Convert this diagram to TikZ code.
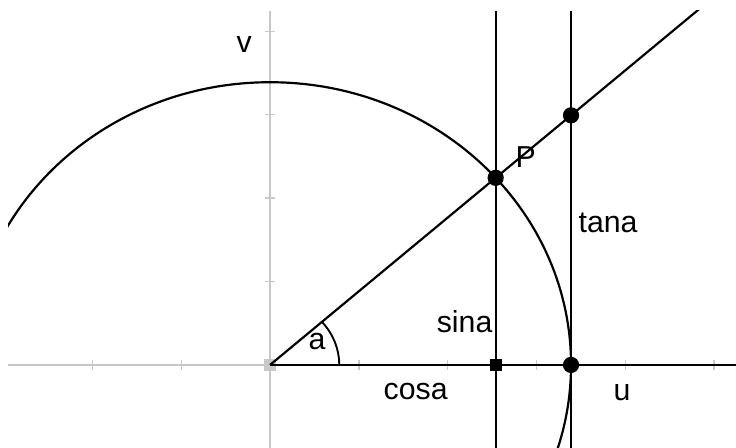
\documentclass[tikz,border=0pt]{standalone}
\usepackage{fontspec}
\setmainfont{Liberation Sans}
\usetikzlibrary{calc}
\definecolor{axisgray}{RGB}{200,200,200}

\begin{document}
\begin{tikzpicture}[
    x=1cm, y=0.9392cm,
    axis/.style={draw=axisgray, line width=0.55pt},
    axistick/.style={draw=axisgray, line width=0.45pt},
    geom/.style={draw=black, line width=0.7pt},
    dot/.style={circle, fill=black, inner sep=0pt, minimum size=5.2pt},
    sqmark/.style={rectangle, fill=black, inner sep=0pt, minimum size=3.9pt},
    origmark/.style={rectangle, fill=axisgray, inner sep=0pt, minimum size=3.9pt},
    lbl/.style={inner sep=0pt, font=\fontsize{9.7}{11}\selectfont}
]
\def\R{3.39}
\def\ang{41.44}
\useasboundingbox (-3.041,-0.995) rectangle (5.248,4.376);

% window corners
\coordinate (left) at (-2.95,0);
\coordinate (right) at (5.248,0);
\coordinate (top) at (0,4.245);
\coordinate (bot) at (0,-0.995);
\clip (left |- bot) rectangle (right |- top);

% points
\coordinate (O) at (0,0);
\coordinate (P) at (\ang:\R);
\coordinate (C) at (P |- O);
\coordinate (U) at (\R,0);
\coordinate (T) at ({\R},{\R*tan(\ang)});

% axes
\draw[axis] (left) -- (right);
\draw[axis] (bot) -- (top);
\foreach \i in {-2,-1,1,2,3,4,5}
  \draw[axistick] (\i,0) ++(0,-1.7pt) -- ++(0,3.4pt);
\foreach \j in {-1,1,2,3,4}
  \draw[axistick] (0,\j) ++(-1.7pt,0) -- ++(3.4pt,0);
\node[origmark] (o) at (O) {};

% unit circle
\draw[geom] (O) circle [radius=\R];

% lines
\draw[geom, line width=0.85pt] (O) -- (right);
\draw[geom] (O) -- ($(O)!3!(P)$);
\draw[geom] (C |- bot) -- (C |- top);
\draw[geom] (U |- bot) -- (U |- top);

% angle
\draw[geom, line width=0.6pt] (0.78,0) arc [start angle=0, end angle=\ang, radius=0.78];

% markers
\node[sqmark] (c) at (C) {};
\node[dot] (p) at (P) {};
\node[dot] (t) at (T) {};
\node[dot] (u) at (U) {};

% labels
\node[lbl, anchor=base west] (lv) at (-0.383,3.741) {v};
\node[lbl, anchor=base west] (lu) at (3.863,-0.43) {u};
\node[lbl, anchor=base west] (lp) at (2.759,2.362) {P};
\node[lbl, anchor=base west] (la) at (0.428,0.18) {a};
\node[lbl, anchor=base east] (lsin) at (2.511,0.384) {sina};
\node[lbl, anchor=base west] (lcos) at (1.273,-0.42) {cosa};
\node[lbl, anchor=base west] (ltan) at (3.468,1.583) {tana};

\end{tikzpicture}
\end{document}
